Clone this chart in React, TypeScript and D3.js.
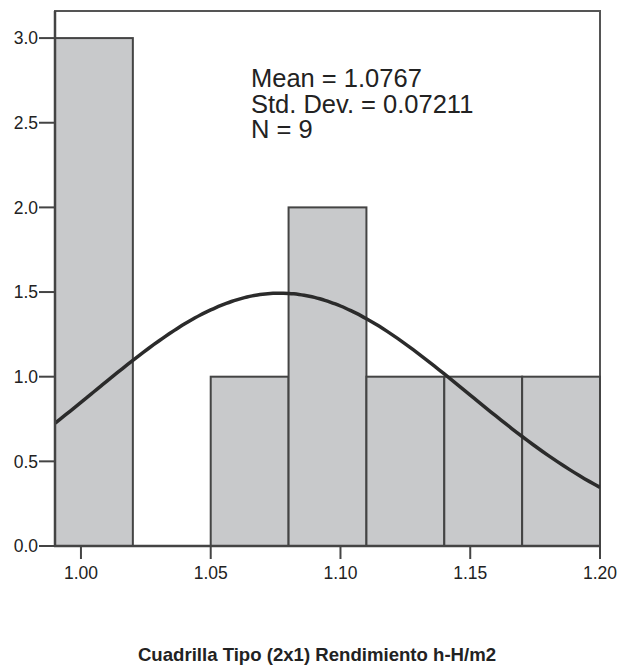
import React from "react";
import * as d3 from "d3";

// histogram bins (lower edge) and counts
const binStarts = [0.99, 1.02, 1.05, 1.08, 1.11, 1.14, 1.17];
const counts = [3, 0, 1, 2, 1, 1, 1];
const binWidth = 0.03;

const yTicks = [0.0, 0.5, 1.0, 1.5, 2.0, 2.5, 3.0];
const xTicks = [1.0, 1.05, 1.1, 1.15, 1.2];

const mean = 1.0767;
const sd = 0.07211;
const n = 9;
const statLines = ["Mean = 1.0767", "Std. Dev. = 0.07211", "N = 9"];
const xTitle = "Cuadrilla Tipo (2x1) Rendimiento h-H/m2";

const W = 634;
const H = 665;
const m = { left: 55, right: 600, top: 11, bottom: 546 };

export default function App() {
  const x = d3.scaleLinear().domain([0.99, 1.2]).range([m.left, m.right]);
  const y = d3.scaleLinear().domain([0, 3.16]).range([m.bottom, m.top]);

  const pdf = (v: number) =>
    (n * binWidth) / (sd * Math.sqrt(2 * Math.PI)) * Math.exp(-0.5 * ((v - mean) / sd) ** 2);
  const curvePts = d3.range(0.99, 1.2001, 0.002).map(v => [v, pdf(v)] as [number, number]);
  const line = d3.line<[number, number]>().x(d => x(d[0])).y(d => y(d[1])).curve(d3.curveBasis);

  const font = "Arial, 'Liberation Sans', Helvetica, sans-serif";

  return (
    <svg width={W} height={H} style={{ position: "absolute", left: 0, top: 0, background: "#fff" }}>
      <rect x={m.left} y={m.top} width={m.right - m.left} height={m.bottom - m.top}
        fill="#fff" stroke="#555" strokeWidth={2} />
      {binStarts.map((b, i) =>
        counts[i] > 0 ? (
          <rect key={i} x={x(b)} y={y(counts[i])} width={x(b + binWidth) - x(b)}
            height={y(0) - y(counts[i])} fill="#c8c9cb" stroke="#444" strokeWidth={2} />
        ) : null
      )}
      <clipPath id="plotclip">
        <rect x={m.left} y={m.top} width={m.right - m.left} height={m.bottom - m.top} />
      </clipPath>
      <path d={line(curvePts) || ""} fill="none" stroke="#2b2b2b" strokeWidth={3.5} clipPath="url(#plotclip)" />
      <line x1={m.left} x2={m.left} y1={m.top} y2={m.bottom} stroke="#444" strokeWidth={2.5} />
      <line x1={m.left - 1} x2={m.right + 1} y1={m.bottom} y2={m.bottom} stroke="#444" strokeWidth={2.5} />
      {yTicks.map(t => (
        <g key={t}>
          <line x1={m.left - 16} x2={m.left} y1={y(t)} y2={y(t)} stroke="#444" strokeWidth={2} />
          <text x={m.left - 17} y={y(t)} dy="0.36em" textAnchor="end" fontFamily={font}
            fontSize={17.5} fill="#222">{t.toFixed(1)}</text>
        </g>
      ))}
      {xTicks.map(t => (
        <g key={t}>
          <line x1={x(t)} x2={x(t)} y1={m.bottom} y2={m.bottom + 13} stroke="#444" strokeWidth={2} />
          <text x={x(t)} y={m.bottom + 33} textAnchor="middle" fontFamily={font}
            fontSize={17.5} fill="#222">{t.toFixed(2)}</text>
        </g>
      ))}
      {statLines.map((s, i) => (
        <text key={i} x={251} y={87 + i * 25.5} fontFamily={font} fontSize={25.5} fill="#222">{s}</text>
      ))}
      <text x={317} y={661} textAnchor="middle" fontFamily={font} fontSize={18.6}
        fontWeight="bold" fill="#222">{xTitle}</text>
    </svg>
  );
}
